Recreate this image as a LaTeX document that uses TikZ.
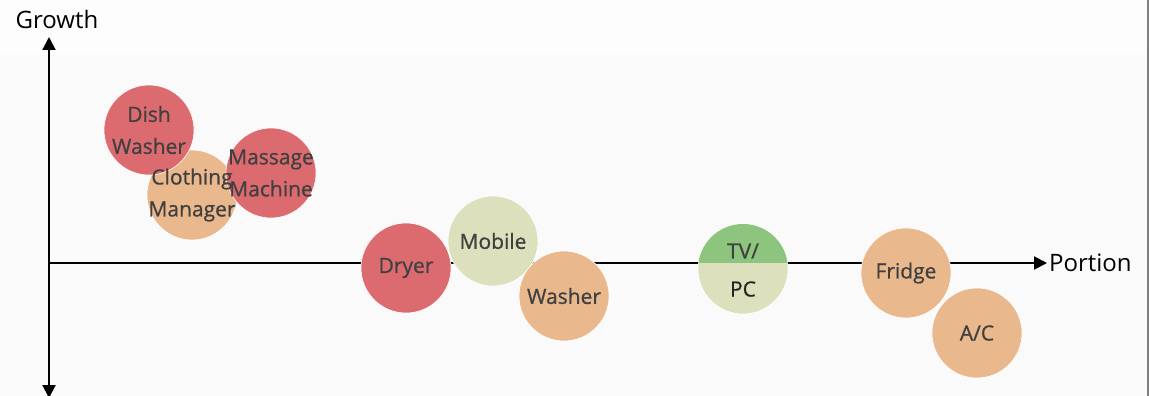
\documentclass[tikz,border=0pt]{standalone}
\usepackage{fontspec}
\setmainfont{Open Sans}
\newfontfamily\bubblefont[FakeBold=0.8]{Open Sans}
\usetikzlibrary{arrows.meta,positioning}

\definecolor{hotred}{HTML}{DC6B70}
\definecolor{warmorange}{HTML}{E9B88C}
\definecolor{paleolive}{HTML}{DDE0BC}
\definecolor{tvgreen}{HTML}{8DC57F}
\definecolor{labelgray}{HTML}{404040}
\definecolor{bgtop}{HTML}{FDFDFD}
\definecolor{bgmain}{HTML}{FAFAFA}

\begin{document}
\begin{tikzpicture}[x=1pt, y=-1pt,
  every node/.style = {font=\bubblefont\fontsize{21}{32}\selectfont, text=labelgray, align=center},
  bubble/.style = {circle, minimum size=90pt, inner sep=0pt, draw=white, line width=0.6pt},
  axis/.style = {line width=2pt, {Triangle[length=13pt,width=13pt]}-{Triangle[length=13pt,width=13pt]}},
  axislabel/.style = {font=\rmfamily\fontsize{24}{28}\selectfont, text=black}]
  \useasboundingbox (0,0) rectangle (1149,396);
  \fill[bgtop] (0,0) rectangle (1149,55);
  \fill[bgmain] (0,55) rectangle (1149,396);
  \draw[gray, line width=2pt] (1148,0) -- (1148,396);

  % axes
  \coordinate (origin) at (49,263);
  \coordinate (ytop) at (49,37);
  \coordinate (ybot) at (49,398);
  \coordinate (xend) at (1047,263);
  \draw[axis] (ybot) -- (ytop);
  \draw[line width=2pt, -{Triangle[length=13pt,width=13pt]}] (origin) -- (xend);
  \node[axislabel] (growth) at (57,20) {Growth};
  \node[axislabel, right=0pt of xend, inner sep=2pt] (portion) {Portion};

  % bubbles
  \node[bubble, fill=warmorange] (cloth) at (192,195) {};
  \node[bubble, fill=hotred] (dish) at (149,130) {};
  \node[bubble, fill=hotred] (massage) at (271,173) {};
  \node[bubble, fill=hotred] (dryer) at (406,268) {};
  \node[bubble, fill=paleolive] (mobile) at (493,241) {};
  \node[bubble, fill=warmorange] (washer) at (564,296) {};
  \node[bubble, fill=paleolive] (tvpc) at (743,269) {};
  \begin{scope}
    \clip (tvpc.center) circle (45pt);
    \fill[tvgreen] (697,220) rectangle (790,263);
  \end{scope}
  \node[bubble, fill=warmorange] (fridge) at (906,273) {};
  \node[bubble, fill=warmorange] (ac) at (977,333) {};

  % labels
  \node (dishtext) at (dish) {Dish\\Washer};
  \node (clothtext) at (cloth) {Clothing\\Manager};
  \node (massagetext) at (massage) {Massage\\Machine};
  \node (dryertext) at (dryer) {Dryer};
  \node (mobiletext) at (mobile) {Mobile};
  \node (washertext) at (washer) {Washer};
  \node (tvtext) at (743,251) {TV/};
  \node[text=black!85] (pctext) at (743,289) {PC};
  \node (fridgetext) at (fridge) {Fridge};
  \node (actext) at (ac) {A/C};
\end{tikzpicture}
\end{document}
